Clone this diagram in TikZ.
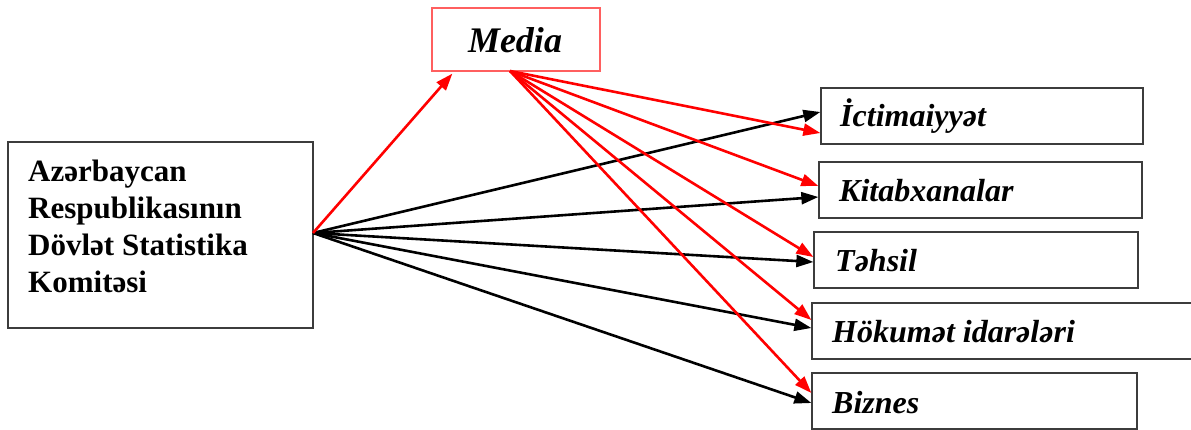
\documentclass[tikz,border=0pt]{standalone}
\usepackage{fontspec}
\setmainfont{Liberation Serif}
\usetikzlibrary{arrows.meta}
\definecolor{mediared}{RGB}{255,95,95}
\definecolor{boxgray}{RGB}{60,60,60}
\tikzset{
  box/.style={draw=boxgray, line width=1.3pt, fill=white, inner sep=0pt},
  mediabox/.style={draw=mediared, line width=1.3pt, fill=white, inner sep=0pt, font=\fontsize{36}{40}\selectfont\bfseries\itshape},
  lbl/.style={font=\fontsize{32}{36}\selectfont\bfseries\itshape, inner sep=0pt},
  srctext/.style={font=\fontsize{31}{37}\selectfont\bfseries, inner sep=0pt, align=left},
  blk/.style={draw=black, line width=2.6pt, -{Triangle[length=17pt,width=12pt]}},
  redarr/.style={draw=red, line width=2.6pt, -{Triangle[length=17pt,width=12pt]}}
}
\begin{document}
\begin{tikzpicture}[x=1pt,y=-1pt]
\useasboundingbox (0,0) rectangle (1191,430);
% boxes
\node[box, minimum width=305pt, minimum height=186pt] (src) at (160.5,235) {};
\node[srctext, anchor=base west] (srct) at (28,182) {Azərbaycan};
\node[srctext, anchor=base west] (srct2) at (28,219) {Respublikasının};
\node[srctext, anchor=base west] (srct3) at (28,256) {Dövlət Statistika};
\node[srctext, anchor=base west] (srct4) at (28,293) {Komitəsi};
\node[mediabox, minimum width=168pt, minimum height=63pt] (media) at (516,39.5) {};
\node[mediabox, draw=none, fill=none, anchor=base] (mediat) at (515,53) {Media};
\node[box, minimum width=322pt, minimum height=56pt] (ict) at (982,116) {};
\node[box, minimum width=323pt, minimum height=56pt] (kit) at (980.5,190) {};
\node[box, minimum width=324pt, minimum height=56pt] (teh) at (976,260) {};
\node[box, minimum width=386pt, minimum height=56pt] (hok) at (1005,331) {};
\node[box, minimum width=325pt, minimum height=56pt] (biz) at (974.5,401) {};
% labels
\node[lbl, anchor=base west] (ictt) at (840,127) {İctimaiyyət};
\node[lbl, anchor=base west] (kitt) at (839,202) {Kitabxanalar};
\node[lbl, anchor=base west] (teht) at (835,272) {Təhsil};
\node[lbl, anchor=base west] (hokt) at (832,342) {Hökumət idarələri};
\node[lbl, anchor=base west] (bizt) at (832,413) {Biznes};
% origins
\coordinate (so) at (313,233);
\coordinate (mo) at (510,71);
% black arrows
\draw[blk] (so) -- ([yshift=4pt]ict.west);
\draw[blk] (so) -- ([yshift=-7pt]kit.west);
\draw[blk] (so) -- ([yshift=-2pt]teh.west);
\draw[blk] (so) -- ([yshift=3pt]hok.west);
\draw[blk] (so) -- ([yshift=-2pt]biz.west);
% red arrows
\draw[redarr] (so) -- ([xshift=21pt,yshift=-2pt]media.south west);
\draw[redarr] (mo) -- ([yshift=-17pt]ict.west);
\draw[redarr] (mo) -- ([yshift=4pt]kit.west);
\draw[redarr] (mo) -- ([yshift=3pt]teh.west);
\draw[redarr] (mo) -- ([yshift=11pt]hok.west);
\draw[redarr] (mo) -- ([yshift=8pt]biz.west);
\end{tikzpicture}
\end{document}
